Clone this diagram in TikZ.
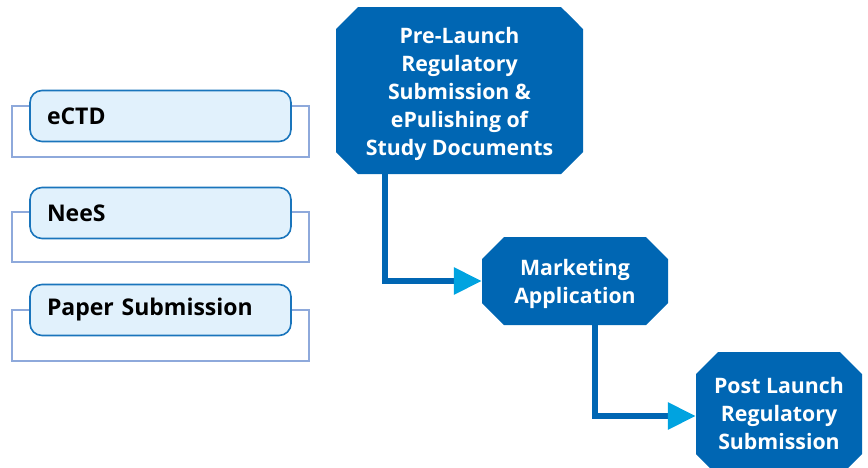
\documentclass[tikz,border=0pt]{standalone}
\usepackage{fontspec}
\setmainfont{Open Sans}
\usetikzlibrary{shapes.misc,arrows.meta}
\definecolor{stepblue}{RGB}{0,102,179}
\definecolor{tipcyan}{RGB}{0,163,224}
\definecolor{paleblue}{RGB}{225,241,252}
\definecolor{edgeblue}{RGB}{26,117,188}
\definecolor{frameblue}{RGB}{142,169,219}
\begin{document}
\begin{tikzpicture}[x=1pt, y=-1pt, node distance = 97pt,
    stage/.style={chamfered rectangle, chamfered rectangle xsep=11pt, chamfered rectangle ysep=11pt,
      fill=stepblue, text=white, inner sep=0pt, align=center,
      font=\fontsize{21.3}{28}\selectfont\bfseries},
    format/.style={draw=edgeblue, line width=1.6pt, fill=paleblue, rounded corners=12pt,
      minimum height=51pt, text width=227pt, inner xsep=17pt, align=left,
      font=\fontsize{23}{26}\selectfont\bfseries},
    frame/.style={draw=frameblue, line width=1.2pt},
    flow/.style={draw=stepblue, line width=6pt, -{Triangle[length=28pt, width=26pt, color=tipcyan]}}]
  \clip (0,0) rectangle (868,467);
  % frames behind the format boxes
  \draw[frame] (12,106) rectangle (309,157);
  \draw[frame] (12,212) rectangle (309,262);
  \draw[frame] (12,310) rectangle (309,361);
  \node[format] (ectd) at (160.5,116) {eCTD};
  \node[format] (nees) [below of = ectd] {NeeS};
  \node[format] (paper) [below of = nees] {Paper Submission};

  \node[stage, minimum width=247pt, minimum height=167pt] (pre) at (459.5,90.5)
    {\\[-5pt]Pre-Launch\\Regulatory\\Submission \&\\ePulishing of\\Study Documents};
  \node[stage, minimum width=186pt, minimum height=88pt] (mkt) at (575,281)
    {\\[-5pt]Marketing\\Application};
  \node[stage, minimum width=166pt, minimum height=124pt] (post) at (779,414)
    {Post Launch\\Regulatory\\Submission};

  \draw[flow] ([xshift=-74.5pt]pre.south) |- (mkt.west);
  \draw[flow] ([xshift=20pt]mkt.south) |- ([yshift=-2pt]post.west);
\end{tikzpicture}
\end{document}
